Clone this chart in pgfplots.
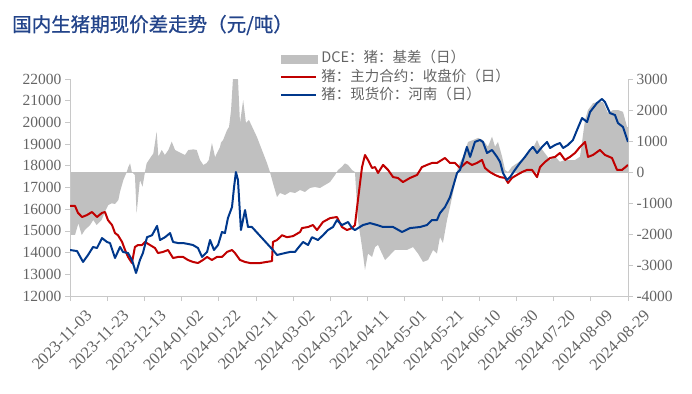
\documentclass[border=0pt]{standalone}
\usepackage{pgfplots}
\pgfplotsset{compat=1.18}
\usepackage{pgfplotstable}
\usepackage{fontspec}
\setmainfont{Liberation Serif}
\newfontfamily\cjk{Noto Sans CJK SC}
\newfontfamily\cjktitle[FakeBold=0.8]{Noto Sans CJK SC}
\definecolor{tickgray}{RGB}{100,100,100}
\definecolor{axgray}{RGB}{200,200,200}
\definecolor{areagray}{RGB}{192,192,192}
\definecolor{myred}{RGB}{192,0,0}
\definecolor{myblue}{RGB}{0,56,140}
\definecolor{titleblue}{RGB}{35,68,138}

\pgfplotstableread{
x y
0 16150
2.7 16150
4.3 15830
6.5 15640
9.1 15730
11.8 15870
14.5 15640
17.2 15830
18.8 15870
20.4 15500
22.6 15270
24.2 14900
25.8 14800
28.0 14490
29.6 14120
31.2 13800
33.3 13520
34.9 14260
36.6 14350
38.7 14350
40.3 14490
43.0 14350
45.7 14210
47.3 13980
50.0 14030
52.7 14120
55.4 13750
58.1 13800
60.8 13800
63.4 13660
66.1 13570
68.8 13520
71.5 13660
73.7 13800
76.3 13660
79.0 13800
81.7 13800
84.4 14030
87.1 14120
88.7 13980
91.4 13660
94.1 13570
96.8 13520
102.2 13520
108.6 13610
109.1 14490
111.3 14580
114.0 14800
116.7 14710
119.9 14760
123.7 14950
124.7 15130
128.0 15180
130.6 15270
132.8 15040
136.0 15410
139.8 15590
143.5 15640
146.2 15180
148.9 15040
151.6 15130
153.2 15270
154.8 16420
157.0 17940
158.6 18500
160.2 18270
162.4 17900
164.0 17940
165.6 17670
168.3 18040
171.0 17810
173.7 17480
176.3 17440
179.0 17250
182.8 17440
186.6 17580
189.2 17940
191.9 18040
194.6 18130
197.3 18130
201.6 18360
204.3 18130
207.0 18130
209.7 17900
213.4 18180
216.1 18040
218.8 18130
221.5 18270
223.1 17900
225.8 17710
228.5 17580
231.2 17480
233.9 17440
235.5 17210
237.6 17440
240.3 17580
243.0 17710
245.7 17810
248.4 17810
251.1 17480
252.7 17940
255.4 18180
258.1 18360
260.8 18410
263.4 18590
266.1 18270
268.8 18410
271.5 18590
274.2 18870
276.9 19100
278.5 18410
281.2 18500
284.9 18730
287.6 18500
291.4 18360
294.1 17810
296.8 17810
300 18040
}\redtab

\pgfplotstableread{
x y
0 14120
3.8 14070
7.0 13570
9.7 13890
12.4 14260
14.5 14210
17.2 14670
19.9 14490
21.5 14440
24.2 13750
26.9 14260
28.5 14030
31.2 13980
33.3 13660
35.5 13060
37.6 13660
39.2 13980
41.4 14710
44.1 14800
46.8 15230
48.4 14580
51.1 14710
53.8 14900
55.4 14490
58.1 14440
60.8 14440
63.4 14400
66.1 14350
68.8 14210
71.0 13800
73.7 14030
75.3 14580
77.4 14120
79.6 14350
81.7 14950
83.3 14900
84.9 15590
87.1 16100
88.2 17020
89.2 17710
90.3 17350
91.9 15040
94.1 15960
95.7 15180
97.8 15180
109.1 14120
111.3 13890
115.6 13980
118.3 14030
121.0 14030
122.6 14210
125.3 14490
128.0 14350
130.1 14710
133.3 14580
136.0 14800
138.7 15040
141.4 15180
143.5 15500
146.2 15270
149.5 15410
151.6 15130
153.2 15040
157.5 15270
161.3 15360
165.1 15270
168.3 15180
173.7 15180
178.5 14950
182.8 15130
188.2 15180
191.9 15270
194.6 15500
197.3 15500
198.9 15820
201.6 16100
204.3 16560
205.9 17020
208.1 17670
209.7 17810
211.3 18270
213.4 18870
215.1 18410
217.7 19100
220.4 19190
222.0 19100
224.2 18590
226.9 18730
229.6 18410
231.2 18180
232.8 17670
234.9 17350
236.6 17480
239.2 17810
241.9 18130
244.6 18410
247.3 18730
248.9 18870
251.1 18590
253.8 18870
256.5 19100
258.1 18820
260.8 18960
263.4 19050
265.1 18820
267.7 18960
270.4 19190
272.6 19650
275.3 20200
278.0 20020
279.6 20480
283.3 20890
286.0 21080
287.6 20940
290.3 20430
293.0 20340
294.6 19970
297.3 19790
300 19100
}\bluetab

\pgfplotstableread{
x y
0 0
0 -2032
2.7 -2032
4.5 -1656
6.3 -2032
8 -1871
10.8 -1710
12.5 -1548
14.3 -1710
17 -1548
18.8 -1280
20.6 -1065
22.4 -1010
24.2 -1032
26 -903
26.9 -635
28.7 -258
30.5 0
31.4 170
32.3 280
33.2 10
34.9 -97
35.8 -1333
37.6 -258
39 -473
40.3 0
41.2 280
43 440
44.8 600
46.6 1300
47.5 495
49.3 710
51 550
52.9 710
54.7 980
56.5 710
58.2 655
60 600
61.8 550
63.6 710
66.3 730
68.1 710
69.9 387
71.7 225
73.5 290
74.6 387
76.3 935
78.0 480
80.6 800
81.2 950
82.3 1030
84.4 1350
85.5 1450
86.6 2000
87.6 3000
90.3 3000
91.4 1580
93.1 2320
94.6 1580
96.2 1680
100.5 1130
103.2 710
105.9 290
107.5 0
109.1 -355
111.3 -806
112.9 -677
115.6 -742
118.3 -645
121.0 -677
123.7 -580
126.3 -645
129.0 -516
131.7 -484
134.4 -516
137.1 -419
139.8 -323
142.5 -97
144.1 65
146.2 170
147.8 280
149.5 225
151.6 65
153.2 0
154.8 -1548
157.0 -2420
158.6 -3160
160.2 -2630
162.4 -2740
164.0 -2420
165.6 -2350
167.7 -2630
169.4 -2840
172.0 -2680
174.7 -2515
177.4 -2515
181.2 -2515
184.4 -2420
187.1 -2630
189.8 -2900
192.5 -2840
195.2 -2515
197.3 -2630
198.9 -2100
200.5 -2290
202.7 -1548
204.3 -1130
205.9 -677
208.1 0
208.6 170
211.3 495
214.0 970
216.7 1030
219.4 1100
222.0 1030
224.7 816
226.9 1140
228.5 816
230.1 970
232.3 495
233.9 65
235.5 0
237.6 170
240.3 280
243.0 387
245.7 600
248.4 710
251.1 1030
252.7 816
255.4 600
258.1 387
260.8 495
263.4 330
266.1 387
268.8 387
271.5 387
274.2 495
276.9 1680
278.5 2000
281.2 2220
283.9 2260
286.6 2260
289.2 1900
292 2000
294.6 2000
297.3 1940
299.5 1450
300 1450
300 0
}\basistab

\begin{document}
\begin{tikzpicture}[x=1pt,y=1pt]
\pgfplotsset{
  base/.style={
    scale only axis, width=558pt, height=217pt,
    at={(70pt,-296pt)}, anchor=south west,
    xmin=0, xmax=300,
    scaled y ticks=false, scaled x ticks=false,
    axis line style={axgray, line width=0.8pt},
    tick style={axgray, line width=0.8pt},
    major tick length=5pt, tick align=outside,
    ticklabel style={font=\fontsize{15.5}{18}\selectfont, text=tickgray},
  }
}
\begin{axis}[base,
  ymin=-4000, ymax=3000,
  axis y line*=right, axis x line=none,
  ytick={-4000,-3000,-2000,-1000,0,1000,2000,3000},
  yticklabels={-4000,-3000,-2000,-1000,0,1000,2000,3000},
]
\addplot[fill=areagray, draw=none] table[x=x,y=y] {\basistab} -- cycle;
\addplot[areagray, line width=1pt] coordinates {(0,0) (300,0)};
\end{axis}
\begin{axis}[base,
  ymin=12000, ymax=22000,
  axis y line*=left, axis x line*=bottom,
  ytick={12000,13000,...,22000},
  yticklabels={12000,13000,14000,15000,16000,17000,18000,19000,20000,21000,22000},
  xtick={0,20,...,300},
  xticklabels={2023-11-03,2023-11-23,2023-12-13,2024-01-02,2024-01-22,2024-02-11,2024-03-02,2024-03-22,2024-04-11,2024-05-01,2024-05-21,2024-06-10,2024-06-30,2024-07-20,2024-08-09,2024-08-29},
  xticklabel style={rotate=45, anchor=north east, inner sep=0pt, xshift=5pt, yshift=-16pt, font=\fontsize{16.5}{18}\selectfont},
  legend style={at={(axis description cs:0.3763,1.135)}, anchor=north west,
    draw=none, fill=none, inner sep=0pt, row sep=0pt,
    font=\cjk\fontsize{14.5}{16}\selectfont, text=tickgray,
    cells={anchor=west},
    nodes={inner sep=1pt, text height=12pt, text depth=4.2pt},
    /tikz/every odd column/.append style={column sep=3pt}},
  legend image code/.code={\draw[#1] (0pt,0pt) -- (35pt,0pt);},
]
\addlegendimage{legend image code/.code={\fill[areagray] (0pt,-4pt) rectangle (36pt,4pt);}}
\addlegendentry{DCE：猪：基差（日）}
\addplot[myred, line width=2pt, line join=round] table[x=x,y=y] {\redtab};
\addlegendentry{猪：主力合约：收盘价（日）}
\addplot[myblue, line width=2pt, line join=round] table[x=x,y=y] {\bluetab};
\addlegendentry{猪：现货价：河南（日）}
\end{axis}
\node[anchor=west, text=titleblue, font=\cjktitle\fontsize{19.5}{21}\selectfont, inner sep=0pt] at (12,-25) {国内生猪期现价差走势（元/吨）};
\pgfresetboundingbox
\path[use as bounding box] (0,0) rectangle (692,-393);
\end{tikzpicture}
\end{document}
